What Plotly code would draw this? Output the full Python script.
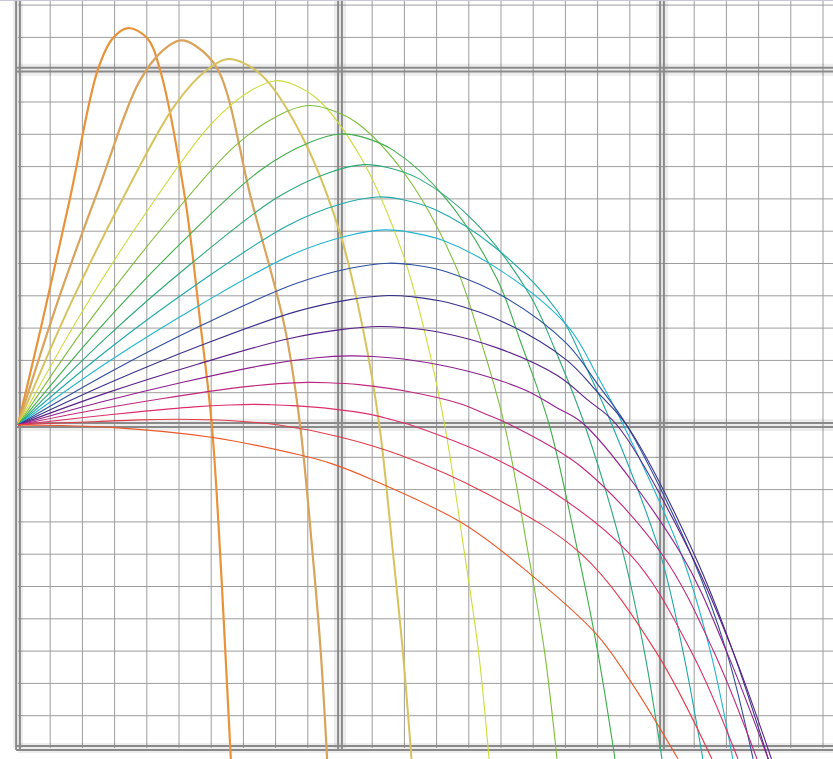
import plotly.graph_objects as go

# ---------------- data (grid unit = 1 minor cell) ----------------
launch_angles = [80, 75, 70, 65, 60, 55, 50, 45, 40, 35, 30, 25, 20, 15, 10, 5, 0]

x80 = [0, 0.71, 1.61, 2.48, 2.95, 3.42, 4.01, 4.41, 5.19, 5.68, 6.02, 6.34, 6.61]
y80 = [0, 3.0, 7.0, 11.0, 11.98, 12.29, 11.98, 11.0, 7.0, 3.0, 0, -5.1, -10.34]

x75 = [0, 1.27, 2.53, 3.75, 4.5, 5.06, 5.5, 6.21, 7.24, 8.29, 8.76, 9.15, 9.4, 9.6]
y75 = [0, 3.93, 7.38, 10.6, 11.6, 11.91, 11.75, 11.0, 7.0, 3.0, 0, -4, -7, -10.34]

x70 = [0, 1.63, 3.26, 4.88, 5.86, 6.51, 6.98, 7.69, 8.87, 10.0, 10.72, 11.22, 11.65, 11.95, 12.22]
y70 = [0, 3.74, 7.02, 9.91, 10.99, 11.33, 11.22, 10.71, 8.84, 5.94, 2.94, 0, -4, -7, -10.34]

x65 = [0, 2.0, 4.0, 6.01, 7.21, 8.01, 8.53, 9.32, 10.63, 11.94, 12.65, 13.25, 13.87, 14.3, 14.63]
y65 = [0, 3.52, 6.61, 9.33, 10.34, 10.66, 10.55, 10.07, 8.31, 5.33, 2.8, 0, -4, -7, -10.34]

x60 = [0, 2.25, 4.5, 6.75, 8.1, 9.0, 9.61, 10.53, 12.06, 13.58, 14.3, 15.11, 15.85, 16.35, 16.74]
y60 = [0, 3.26, 6.13, 8.65, 9.59, 9.89, 9.79, 9.35, 7.71, 4.95, 2.85, 0, -4, -7, -10.34]

x55 = [0, 2.51, 5.02, 7.52, 9.03, 10.03, 10.68, 11.65, 13.27, 14.88, 15.6, 16.5, 17.4, 18.0, 18.54]
y55 = [0, 2.97, 5.59, 7.88, 8.74, 9.01, 8.92, 8.51, 7.03, 4.51, 2.6, 0, -4, -7, -10.34]

x50 = [0, 2.69, 5.38, 8.06, 9.68, 10.75, 11.44, 12.46, 14.18, 15.89, 16.65, 17.6, 18.8, 19.45, 20.0]
y50 = [0, 2.66, 5.0, 7.05, 7.82, 8.06, 7.98, 7.62, 6.29, 4.03, 2.4, 0, -4, -7, -10.34]

x45 = [0, 2.79, 5.59, 8.38, 10.05, 11.17, 11.88, 12.95, 14.8, 16.75, 17.65, 18.45, 19.95, 20.65, 21.27]
y45 = [0, 2.33, 4.38, 6.18, 6.85, 7.06, 6.99, 6.67, 5.51, 3.53, 1.77, 0, -4, -7, -10.34]

x40 = [0, 2.85, 5.69, 8.54, 10.24, 11.38, 12.11, 13.21, 15.1, 17.1, 18.0, 18.8, 20.6, 21.5, 22.2]
y40 = [0, 1.99, 3.74, 5.29, 5.86, 6.04, 5.98, 5.71, 4.71, 3.02, 1.51, 0, -4, -7, -10.34]

x35 = [0, 2.88, 5.75, 8.63, 10.35, 11.5, 12.24, 13.35, 15.2, 17.05, 18.01, 18.9, 20.9, 22.0, 22.83]
y35 = [0, 1.65, 3.11, 4.38, 4.86, 5.01, 4.96, 4.73, 3.91, 2.51, 1.25, 0, -4, -7, -10.34]

x30 = [0, 2.88, 5.75, 8.63, 10.35, 11.5, 12.24, 13.35, 15.2, 17.05, 18.01, 18.9, 21.0, 22.2, 23.3]
y30 = [0, 1.32, 2.49, 3.51, 3.89, 4.01, 3.97, 3.79, 3.13, 2.0, 1.0, 0, -4, -7, -10.34]

x25 = [0, 2.8, 5.6, 8.4, 10.08, 11.2, 11.94, 13.05, 14.9, 16.75, 17.71, 18.6, 20.9, 22.2, 23.4]
y25 = [0, 1.01, 1.89, 2.67, 2.96, 3.05, 3.02, 2.88, 2.38, 1.53, 0.76, 0, -4, -7, -10.34]

x20 = [0, 2.58, 5.15, 7.73, 9.27, 10.3, 11.03, 12.13, 13.95, 15.78, 16.72, 17.6, 20.6, 22.0, 23.3]
y20 = [0, 0.71, 1.33, 1.87, 2.08, 2.14, 2.12, 2.02, 1.67, 1.07, 0.54, 0, -4, -7, -10.34]

x15 = [0, 2.25, 4.5, 6.75, 8.1, 9.0, 9.63, 10.58, 12.15, 13.73, 14.54, 15.3, 17.5, 20.0, 21.6, 22.95]
y15 = [0, 0.44, 0.82, 1.15, 1.28, 1.32, 1.31, 1.25, 1.03, 0.66, 0.33, 0, -1.3, -4, -7, -10.34]

x10 = [0, 1.83, 3.65, 5.48, 6.57, 7.3, 7.79, 8.53, 9.75, 10.98, 11.61, 12.2, 15.5, 19.0, 20.9, 22.36]
y10 = [0, 0.21, 0.40, 0.56, 0.62, 0.64, 0.63, 0.60, 0.50, 0.32, 0.16, 0, -1.4, -4, -7, -10.34]

x05 = [0, 1.25, 2.5, 3.75, 5.0, 6.55, 8.1, 10.0, 11.86, 14.5, 17.5, 19.8, 21.55]
y05 = [0, 0.06, 0.11, 0.16, 0.18, 0.14, 0, -0.37, -0.93, -2.1, -4, -7, -10.34]

x00 = [0, 3.0, 6.0, 8.76, 9.69, 11.02, 13.82, 15.89, 17.95, 19.0, 20.5]
y00 = [0, -0.08, -0.38, -0.93, -1.18, -1.7, -3.05, -4.6, -6.46, -7.9, -10.34]

series_x = [x80, x75, x70, x65, x60, x55, x50, x45, x40, x35, x30, x25, x20, x15, x10, x05, x00]
series_y = [y80, y75, y70, y65, y60, y55, y50, y45, y40, y35, y30, y25, y20, y15, y10, y05, y00]

colors = ['#E8933A', '#D9A35B', '#D6C35E', '#CDDC39', '#7DBE3A', '#3DAE4A', '#2AA876',
          '#1FA8A8', '#22B4D0', '#2E4FA0', '#38308A', '#5B2088', '#8E1F8E', '#C0287F',
          '#DC2F6A', '#E23A48', '#EA5A2A']
widths = [2.2, 2.2, 2.0] + [1.1] * 14

# ---------------- layout geometry ----------------
PX_X = 32.2   # pixels per grid unit horizontally
PX_Y = 32.3   # pixels per grid unit vertically
W, H = 833, 759
X0_PX, Y0_PX = 18, 425
X_MIN, X_MAX = -X0_PX / PX_X, (W - X0_PX) / PX_X
Y_MAX, Y_MIN = Y0_PX / PX_Y, -(H - Y0_PX) / PX_Y

fig = go.Figure()
for xs, ys, c, w, a in zip(series_x, series_y, colors, widths, launch_angles):
    fig.add_trace(go.Scatter(
        x=xs, y=ys, mode='lines', name=f'{a}°',
        line=dict(color=c, width=w, shape='spline', smoothing=1.0),
        hoverinfo='skip', showlegend=False))

shapes = []
minor_col = '#9d9d9d'
major_col = '#8a8a8a'
y_bottom = -10
for k in range(1, 26):
    if k in (10, 20):
        continue
    shapes.append(dict(type='line', x0=k, x1=k, y0=y_bottom, y1=Y_MAX,
                       line=dict(color=minor_col, width=1), layer='below'))
for k in range(-9, 14):
    if k in (0, 11):
        continue
    shapes.append(dict(type='line', x0=0, x1=X_MAX, y0=k, y1=k,
                       line=dict(color=minor_col, width=1), layer='below'))

dx = 1.9 / PX_X
dy = 1.9 / PX_Y
# soft shadows
for xv in (10, 20):
    shapes.append(dict(type='line', x0=xv, x1=xv, y0=y_bottom, y1=Y_MAX,
                       line=dict(color='rgba(0,0,0,0.07)', width=12), layer='below'))
for yv in (11, 0):
    shapes.append(dict(type='line', x0=0, x1=X_MAX, y0=yv, y1=yv,
                       line=dict(color='rgba(0,0,0,0.07)', width=12), layer='below'))
shapes.append(dict(type='line', x0=0, x1=X_MAX, y0=y_bottom, y1=y_bottom,
                   line=dict(color='rgba(0,0,0,0.07)', width=10), layer='below'))
shapes.append(dict(type='line', x0=0, x1=0, y0=y_bottom, y1=Y_MAX,
                   line=dict(color='rgba(0,0,0,0.07)', width=10), layer='below'))
# double major lines
for xv in (0, 10, 20):
    for off in (-dx, dx):
        shapes.append(dict(type='line', x0=xv + off, x1=xv + off, y0=y_bottom - dy, y1=Y_MAX,
                           line=dict(color=major_col, width=2), layer='below'))
for yv in (11, 0, y_bottom):
    for off in (-dy, dy):
        shapes.append(dict(type='line', x0=-dx, x1=X_MAX, y0=yv + off, y1=yv + off,
                           line=dict(color=major_col, width=2), layer='below'))
# faint top edge
shapes.append(dict(type='line', x0=X_MIN, x1=X_MAX, y0=Y_MAX, y1=Y_MAX,
                   line=dict(color='#c9c6d8', width=2), layer='below'))

fig.update_layout(
    width=W, height=H,
    margin=dict(l=0, r=0, t=0, b=0),
    paper_bgcolor='white', plot_bgcolor='white',
    xaxis=dict(range=[X_MIN, X_MAX], visible=False, fixedrange=True),
    yaxis=dict(range=[Y_MIN, Y_MAX], visible=False, fixedrange=True),
    shapes=shapes,
)

fig.write_html("out.html", config={'displayModeBar': False},
               post_script="document.body.style.margin='0px';document.body.style.overflow='hidden';")
